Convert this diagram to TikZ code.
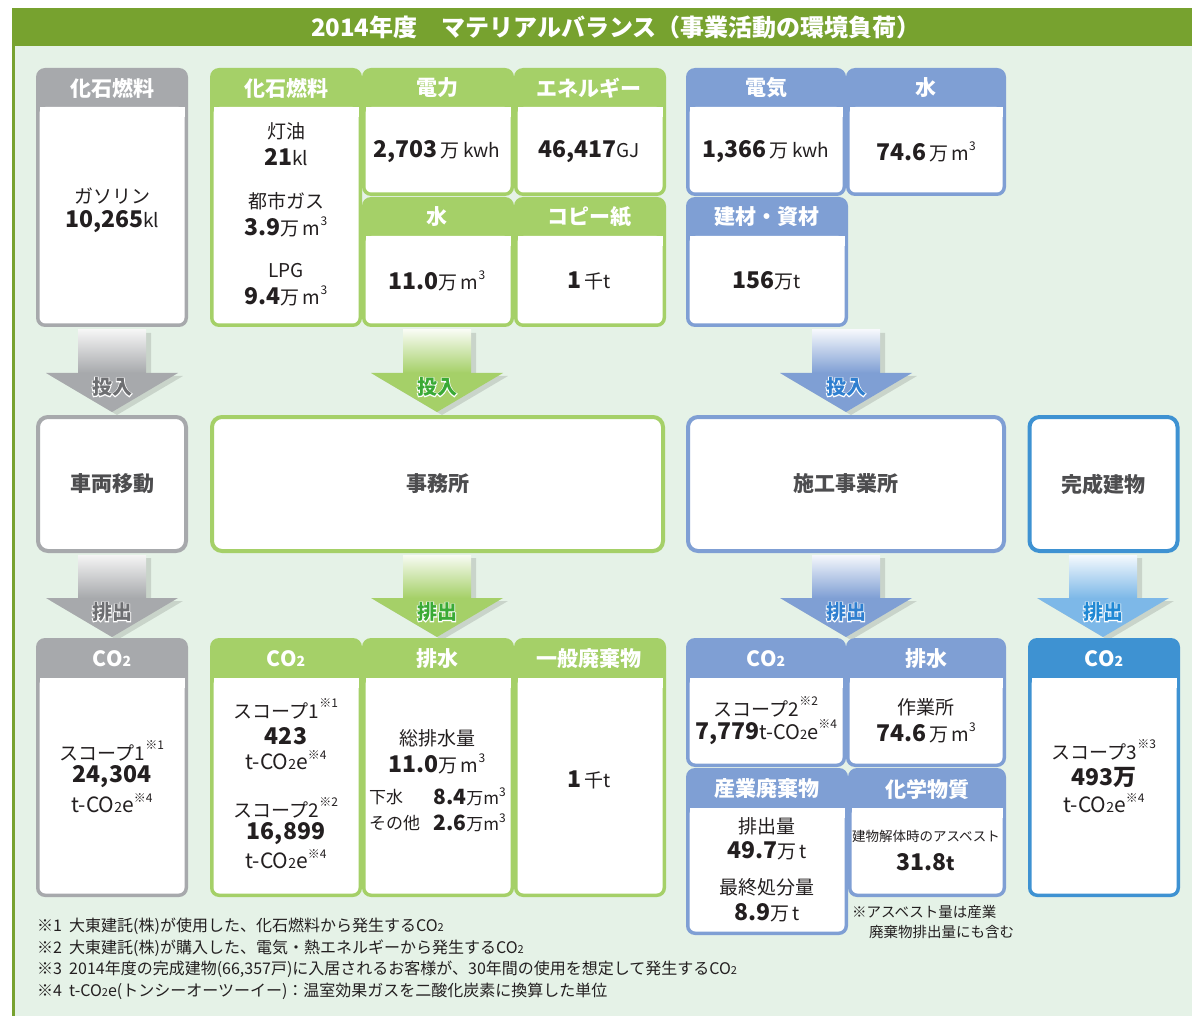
\documentclass[tikz,border=0pt]{standalone}
\usepackage{fontspec}
\setmainfont{Noto Sans CJK JP}
\newfontfamily\halofont{Noto Sans CJK JP}[FakeBold=8]

\definecolor{barGreen}{HTML}{77A22F}
\definecolor{paleGreen}{HTML}{E5F2E7}
\definecolor{ink}{HTML}{231F20}
\definecolor{stageInk}{HTML}{4D4D4F}
\definecolor{cGray}{HTML}{A7A9AC}
\definecolor{cGreen}{HTML}{A5D068}
\definecolor{cBlue}{HTML}{7F9FD4}
\definecolor{cSky}{HTML}{3E92D2}
\definecolor{aSky}{HTML}{7DB8E8}
\definecolor{tGray}{HTML}{6D6E71}
\definecolor{tGreen}{HTML}{3AAA35}
\definecolor{tBlue}{HTML}{2F7FD0}
\definecolor{tSky}{HTML}{1F88D4}

\newcommand\hdfont{\fontsize{21}{24}\selectfont\bfseries}
\newcommand\txfont{\fontsize{19}{24}\selectfont}
\newcommand\nbfont{\fontsize{23}{26}\selectfont\bfseries}
\newcommand\supfont{\fontsize{12}{12}\selectfont}
\newcommand\kome[1]{\raisebox{.55em}{\supfont ※#1}}
\newcommand\cube{m\raisebox{.5em}{\supfont 3}}
\newcommand\cotwo[1]{CO{\fontsize{#1}{#1}\selectfont 2}}
\newcommand\tco{{\fontsize{21}{24}\selectfont t-\cotwo{14}e}}

% coloured cell: x1, y1, x2, y2, bottom of header band, colour
\newcommand\cell[6]{%
  \fill[#6, rounded corners=9pt] (#1,#2) rectangle (#3,#4);
  \fill[white, rounded corners=6pt] (#1+3.5,#5) rectangle (#3-3.5,#4-3.5);
  \fill[white] (#1+3.5,#5) rectangle (#3-3.5,#5+10);
}

% block arrow: name, centre x, top y, colour, top colour, label, label colour
\newcommand\flowarrow[7]{%
  \fill[black, opacity=.12, xshift=5pt, yshift=-3pt]
    (#2-34,#3) -- (#2+34,#3) -- (#2+34,#3+43) -- (#2+66,#3+43) -- (#2,#3+82)
    -- (#2-66,#3+43) -- (#2-34,#3+43) -- cycle;
  \shade[top color=#5, bottom color=#4] (#2-34,#3) rectangle (#2+34,#3+43);
  \fill[#4] (#2-66,#3+43) -- (#2+66,#3+43) -- (#2,#3+82) -- cycle;
  \node[lab] (#1) at (#2,#3+57)
    {\makebox[0pt]{\color{white}\halofont\bfseries #6}\makebox[0pt]{\color{#7}#6}};
}

\tikzset{
  hd/.style={text=white, font=\hdfont, inner sep=0pt},
  tx/.style={text=ink, font=\txfont, inner sep=0pt, align=center},
  lab/.style={font=\fontsize{20}{20}\selectfont\bfseries, inner sep=0pt},
  stage/.style={draw=#1, fill=white, line width=4pt, rounded corners=10pt,
    minimum width=148pt, minimum height=134pt, text=stageInk,
    font=\fontsize{21}{24}\selectfont\bfseries},
  fn/.style={text=ink, font=\fontsize{16}{18}\selectfont, inner sep=0pt, anchor=west},
}

\begin{document}
\begin{tikzpicture}[x=1pt, y=-1pt]
  \useasboundingbox (0,0) rectangle (1192,1016);
  \fill[paleGreen] (12,46) rectangle (1192,1016);
  \fill[barGreen] (12,8) rectangle (1192,46);
  \fill[barGreen] (12,46) rectangle (15,1016);
  \node[text=white, font=\fontsize{24}{26}\selectfont\bfseries, inner sep=0pt] (title) at (616,27)
    {2014年度　マテリアルバランス（事業活動の環境負荷）};

  % inputs
  \cell{36}{68}{188}{327}{107}{cGray}
  \node[hd] (inFuelA) at (112,88) {化石燃料};
  \node[tx] (gasoline) at (112,196) {ガソリン};
  \node[tx] (gasolineV) at (112,222) {{\nbfont 10,265}kl};

  \cell{210}{68}{362}{327}{107}{cGreen}
  \cell{362}{68}{514}{196}{107}{cGreen}
  \cell{514}{68}{666}{196}{107}{cGreen}
  \cell{362}{197}{514}{327}{236}{cGreen}
  \cell{514}{197}{666}{327}{236}{cGreen}
  \node[hd] (inFuelB) at (286,88) {化石燃料};
  \node[hd] (inPower) at (437,88) {電力};
  \node[hd] (inEnergy) at (589,88) {エネルギー};
  \node[hd] (inWaterB) at (437,217) {水};
  \node[hd] (inPaper) at (589,217) {コピー紙};
  \node[tx] (kerosene) at (286,131) {灯油};
  \node[tx] (keroseneV) at (286,157) {{\nbfont 21}kl};
  \node[tx] (cityGas) at (286,201) {都市ガス};
  \node[tx] (cityGasV) at (286,227) {{\nbfont 3.9}万\,\cube};
  \node[tx] (lpg) at (286,271) {LPG};
  \node[tx] (lpgV) at (286,296) {{\nbfont 9.4}万\,\cube};
  \node[tx] (powerV) at (437,152) {{\nbfont 2,703}\,万\,kwh};
  \node[tx] (energyV) at (589,152) {{\nbfont 46,417}GJ};
  \node[tx] (waterBV) at (437,281) {{\nbfont 11.0}万\,\cube};
  \node[tx] (paperV) at (589,281) {{\nbfont 1}\,千t};

  \cell{686}{68}{846}{196}{107}{cBlue}
  \cell{846}{68}{1006}{196}{107}{cBlue}
  \cell{686}{197}{848}{327}{236}{cBlue}
  \node[hd] (inElec) at (766,88) {電気};
  \node[hd] (inWaterC) at (926,88) {水};
  \node[hd] (inMaterial) at (767,217) {建材・資材};
  \node[tx] (elecV) at (766,152) {{\nbfont 1,366}\,万\,kwh};
  \node[tx] (waterCV) at (926,152) {{\nbfont 74.6}\,万\,\cube};
  \node[tx] (materialV) at (767,281) {{\nbfont 156}万t};

  % stages
  \node[stage=cGray] (car) at (112,484) {車両移動};
  \node[stage=cGreen, minimum width=451pt] (office) at (437.5,484) {事務所};
  \node[stage=cBlue, minimum width=316pt] (site) at (846,484) {施工事業所};
  \node[stage=cSky] (building) at (1103.5,484) {完成建物};

  \flowarrow{inCar}{112}{330}{cGray}{gray!8}{投入}{tGray}
  \flowarrow{inOffice}{437}{330}{cGreen}{cGreen!8}{投入}{tGreen}
  \flowarrow{inSite}{846}{330}{cBlue}{cBlue!8}{投入}{tBlue}
  \flowarrow{outCar}{112}{555}{cGray}{gray!8}{排出}{tGray}
  \flowarrow{outOffice}{437}{555}{cGreen}{cGreen!8}{排出}{tGreen}
  \flowarrow{outSite}{846}{555}{cBlue}{cBlue!8}{排出}{tBlue}
  \flowarrow{outBuilding}{1103}{555}{aSky}{aSky!8}{排出}{tSky}

  % outputs
  \cell{36}{638}{188}{897}{678}{cGray}
  \node[hd] (coCar) at (112,659) {\cotwo{14}};
  \node[tx] (coCarA) at (112,751) {スコープ1\kome{1}};
  \node[tx] (coCarB) at (112,777) {\nbfont 24,304};
  \node[tx] (coCarC) at (112,803) {\tco\kome{4}};

  \cell{210}{638}{362}{897}{678}{cGreen}
  \cell{362}{638}{514}{897}{678}{cGreen}
  \cell{514}{638}{666}{897}{678}{cGreen}
  \node[hd] (coOffice) at (286,659) {\cotwo{14}};
  \node[hd] (drainOffice) at (437,659) {排水};
  \node[hd] (wasteOffice) at (589,659) {一般廃棄物};
  \node[tx] (coOfficeA) at (286,709) {スコープ1\kome{1}};
  \node[tx] (coOfficeB) at (286,736) {\nbfont 423};
  \node[tx] (coOfficeC) at (286,760) {\tco\kome{4}};
  \node[tx] (coOfficeD) at (286,808) {スコープ2\kome{2}};
  \node[tx] (coOfficeE) at (286,834) {\nbfont 16,899};
  \node[tx] (coOfficeF) at (286,859) {\tco\kome{4}};
  \node[tx] (drainA) at (437,738) {総排水量};
  \node[tx] (drainB) at (437,764) {{\nbfont 11.0}万\,\cube};
  \node[tx, font=\fontsize{17}{20}\selectfont, anchor=west] (sewer) at (369,797) {下水};
  \node[tx, font=\fontsize{17}{20}\selectfont, anchor=east] (sewerV) at (506,797) {{\fontsize{21}{24}\selectfont\bfseries 8.4}万\cube};
  \node[tx, font=\fontsize{17}{20}\selectfont, anchor=west] (other) at (369,823) {その他};
  \node[tx, font=\fontsize{17}{20}\selectfont, anchor=east] (otherV) at (506,823) {{\fontsize{21}{24}\selectfont\bfseries 2.6}万\cube};
  \node[tx] (wasteOfficeV) at (589,780) {{\nbfont 1}\,千t};

  \cell{686}{638}{846}{767}{678}{cBlue}
  \cell{846}{638}{1006}{767}{678}{cBlue}
  \cell{686}{768}{848}{935}{808}{cBlue}
  \cell{848}{768}{1006}{897}{808}{cBlue}
  \node[hd] (coSite) at (766,659) {\cotwo{14}};
  \node[hd] (drainSite) at (926,659) {排水};
  \node[hd] (wasteSite) at (767,789) {産業廃棄物};
  \node[hd] (chemSite) at (927,789) {化学物質};
  \node[tx] (coSiteA) at (766,707) {スコープ2\kome{2}};
  \node[tx] (coSiteB) at (766,732) {{\nbfont 7,779}{\fontsize{20}{24}\selectfont t-\cotwo{13}e}\kome{4}};
  \node[tx] (drainSiteA) at (926,707) {作業所};
  \node[tx] (drainSiteB) at (926,733) {{\nbfont 74.6}\,万\,\cube};
  \node[tx] (wasteSiteA) at (767,826) {排出量};
  \node[tx] (wasteSiteB) at (767,851) {{\nbfont 49.7}万\,t};
  \node[tx] (wasteSiteC) at (767,887) {最終処分量};
  \node[tx] (wasteSiteD) at (767,913) {{\nbfont 8.9}万\,t};
  \node[tx, font=\fontsize{13.5}{16}\selectfont] (chemA) at (926,836) {建物解体時のアスベスト};
  \node[tx] (chemB) at (926,862) {\nbfont 31.8{\txfont t}};
  \node[fn, font=\fontsize{14.5}{18}\selectfont] (asbestosA) at (852,912) {※アスベスト量は産業};
  \node[fn, font=\fontsize{14.5}{18}\selectfont] (asbestosB) at (869,932) {廃棄物排出量にも含む};

  \cell{1028}{638}{1180}{897}{678}{cSky}
  \node[hd] (coBuilding) at (1104,659) {\cotwo{14}};
  \node[tx] (coBuildingA) at (1104,750) {スコープ3\kome{3}};
  \node[tx] (coBuildingB) at (1104,777) {\nbfont 493万};
  \node[tx] (coBuildingC) at (1104,803) {\tco\kome{4}};

  % footnotes
  \node[fn] (note1) at (37,926) {※1\ \ 大東建託(株)が使用した、化石燃料から発生する\cotwo{11}};
  \node[fn] (note2) at (37,948) {※2\ \ 大東建託(株)が購入した、電気・熱エネルギーから発生する\cotwo{11}};
  \node[fn] (note3) at (37,969) {※3\ \ 2014年度の完成建物(66,357戸)に入居されるお客様が、30年間の使用を想定して発生する\cotwo{11}};
  \node[fn] (note4) at (37,991) {※4\ \ t-\cotwo{11}e(トンシーオーツーイー)：温室効果ガスを二酸化炭素に換算した単位};
\end{tikzpicture}
\end{document}
